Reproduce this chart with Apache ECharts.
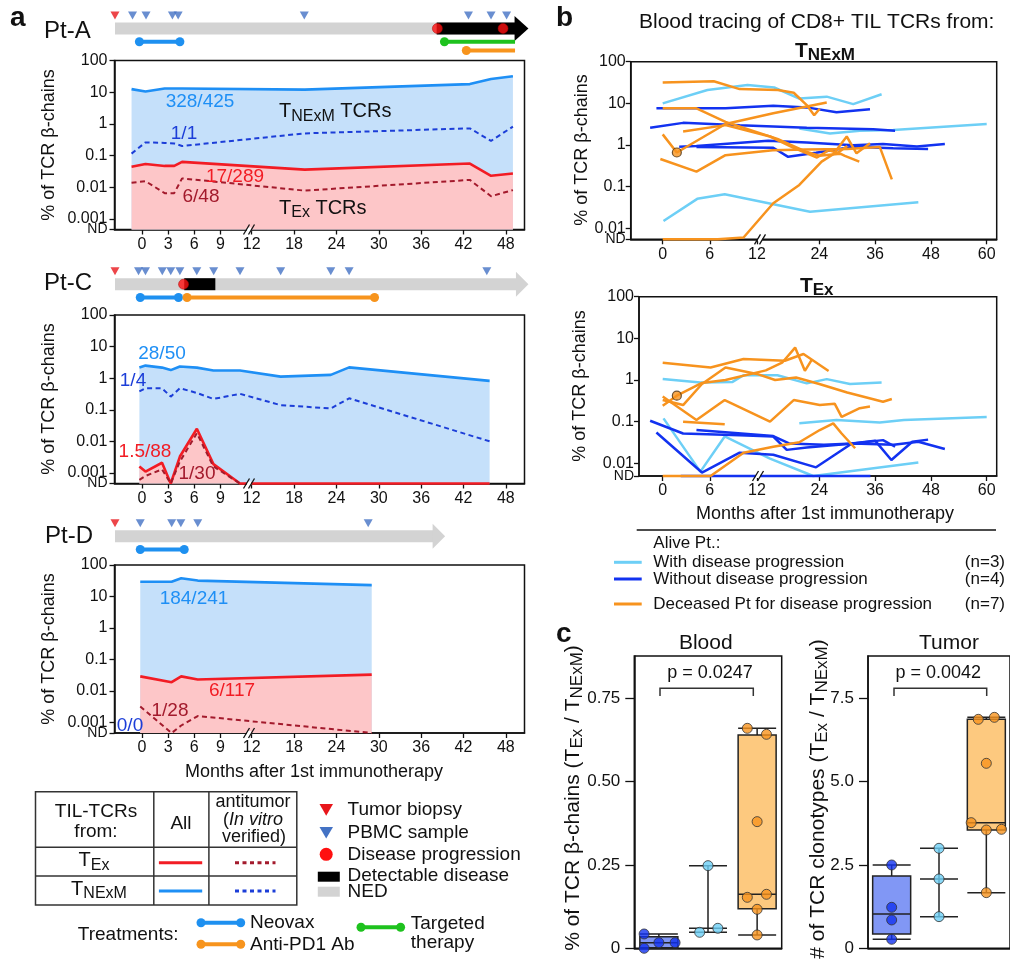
<!DOCTYPE html>
<html><head><meta charset="utf-8"><title>TIL TCR tracing</title>
<script src="https://cdn.jsdelivr.net/npm/echarts@6.0.0/dist/echarts.min.js"></script>
<style>html,body{margin:0;padding:0;background:#fff}#chart{width:1010px;height:960px}</style>
</head><body><div id="chart"></div><script>
// ================= DATA =================
const monthTicksA = [0,3,6,9,12,18,24,30,36,42,48];
const monthTicksB = [0,6,12,24,36,48,60];
const logTicksA = [-3,-2,-1,0,1,2];
const logTickLabelsA = ['0.001','0.01','0.1','1','10','100'];
const logTicksB = [-2,-1,0,1,2];
const logTickLabelsB = ['0.01','0.1','1','10','100'];
const ndText = 'ND';

// ---- Pt-A ----
const ptA_times     = [-1.2,0.4,2.6,3.7,4.6,19.5,42.9,45.9,49.0];
const ptA_tnexmAll  = [12.5,10.5,13,13,13,12,18,26,32];
const ptA_tnexmAnti = [0.115,0.26,0.25,0.24,0.2,0.5,0.72,0.29,0.82];
const ptA_texAll    = [0.044,0.054,0.047,0.047,0.063,0.036,0.056,0.023,0.027];
const ptA_texAnti   = [0.0138,0.0155,0.0065,0.0065,0.019,0.0078,0.017,0.0052,0.0081];
const ptA_bar       = [-3.1,49.3,51.2];     // start, end of body, arrow tip
const ptA_detectable= [[38.2,49.3]];
const ptA_biopsy    = [-3.1];
const ptA_pbmc      = [-1.09,0.46,3.49,4.15,19.45,42.7,45.9,48.1];
const ptA_progression = [38.3,47.6];
const ptA_neovax    = [-0.3,4.35];
const ptA_targeted  = [39.3,49.3];
const ptA_antiPD1   = [42.4,49.3];

// ---- Pt-C ----
const ptC_times     = [-0.3,0.4,2.3,3.3,4.35,6.3,8.2,11.25,16.1,23.2,25.8,45.7];
const ptC_tnexmAll  = [2.16,2.5,2.16,1.8,2.35,2.16,1.75,1.75,1.12,1.27,2.2,0.82];
const ptC_tnexmAnti = [0.38,0.48,0.48,0.26,0.48,0.34,0.22,0.32,0.14,0.11,0.23,0.01];
const ptC_texAll    = [0.0016,0.0011,0.0021,0,0.0033,0.025,0.0019,0,0,0,0,0];
const ptC_texAnti   = [0.0006,0.0008,0.0013,0,0.0023,0.018,0.0016,0,null,null,null,null];
const ptC_bar       = [-3.1,49.5,51.2];
const ptC_detectable= [[4.85,8.42]];
const ptC_biopsy    = [-3.1];
const ptC_pbmc      = [-0.4,0.4,2.33,3.3,4.35,6.29,8.23,11.25,16.1,23.2,25.8,45.3];
const ptC_progression = [4.77];
const ptC_neovax    = [-0.2,4.19];
const ptC_antiPD1   = [5.17,29.4];

// ---- Pt-D ----
const ptD_times     = [-0.2,3.4,4.5,6.4,29.0];
const ptD_tnexmAll  = [29.5,29.5,38,32,23];
const ptD_texAll    = [0.029,0.019,0.029,0.023,0.033];
const ptD_texAnti   = [0.0032,0,0.0008,0.0016,0];
const ptD_bar       = [-3.1,37.7,39.4];
const ptD_detectable= [];
const ptD_biopsy    = [-3.1];
const ptD_pbmc      = [-0.2,3.41,4.46,6.4,28.5];
const ptD_progression = [];
const ptD_neovax    = [-0.2,4.85];

// ---- Panel b : T_NExM (top) ----  [month, % of TCR beta-chains], 0 = ND
const bTop_light = [
  [[0,10],[5.7,21],[10.8,27.5],[14.3,24],[19.7,13],[25.6,14.5],[31.3,9.6],[37.4,16.5]],
  [[19.7,2.5],[26.3,1.9],[32.7,2.2],[39.9,2.3],[60,3.2]],
  [[0.1,0.015],[4.4,0.051],[7.9,0.066],[22,0.025],[45.3,0.042]]
];
const bTop_dark = [
  [[-0.8,7.6],[4.3,7.6],[8,7.6],[14.1,8.7],[21.3,8],[27.7,6.1],[34.9,7.2]],
  [[-1.6,2.6],[2.6,3.4],[9.8,3.0],[21.3,2.6],[35.6,2.4],[40.3,2.2]],
  [[2.1,0.91],[4.3,0.95],[13,1.26],[21.3,1.15],[31.3,0.99],[37.7,1.05],[45,0.92],[51,1.05]],
  [[4.3,0.89],[14.1,0.86],[17.3,0.52],[23.3,0.65],[31.3,0.91],[39.9,0.83],[47.4,0.8]]
];
const bTop_orange = [
  [[0,31.6],[6.5,34],[9.8,22],[15.1,21],[18.5,18],[21.3,9.1],[22.9,5.2],[24.1,7.4]],
  [[0,7.6],[4.3,7.6],[8,3.6],[15,1.4],[21,0.7],[24,0.55],[28.5,0.62],[29.5,0.55],[32.6,0.4]],
  [[0,1.8],[1.8,0.66],[8,3.2],[14.1,5.8],[25.6,10.5]],
  [[2.6,2.1],[8,3.0],[13.4,1.6],[18.5,0.85],[23.5,0.5],[26,0.75],[28,0.65],[30,0.95]],
  [[-0.3,0.46],[4.3,0.23],[8,0.57],[14,0.75],[21,0.78],[30,0.8],[37,0.9],[39.6,0.15]],
  [[0,0],[7,0],[10.3,0.006],[14.1,0.04],[19.7,0.11],[24.5,0.4],[27,0.6],[29.9,1.6],[32,0.63],[34.9,1.1]]
];
const bTop_marker = [[1.8,0.66]];

// ---- Panel b : T_Ex (bottom) ----
const bBot_light = [
  [[0,1.05],[4.8,0.87],[8.9,0.9],[10.3,1.3],[15,1.3],[21.3,0.83],[25.6,1.05],[30.6,0.8],[37.4,0.87]],
  [[19.7,0.091],[27.7,0.11],[37,0.095],[42.2,0.11],[60,0.13]],
  [[0.1,0.12],[4.8,0.0063],[7.9,0.044],[13.4,0.013],[22.7,0],[45.3,0.0104]]
];
const bBot_dark = [
  [[-1.6,0.105],[2.6,0.052],[9.8,0.047],[14.1,0.044],[17,0.021],[21.3,0.024],[31.3,0.03],[37.7,0.036],[40.3,0.025]],
  [[-0.8,0.055],[5,0.006],[9.8,0.018],[14.1,0.016],[23.3,0.008],[31,0.03],[36,0.035],[39.5,0.012],[44,0.033],[47.4,0.037]],
  [[4.3,0.063],[14.1,0.045],[17.5,0.03],[25,0.028],[31.3,0.03],[40,0.028],[45.3,0.033],[51,0.022]],
  [[2.3,0],[4.5,0],[10,0],[14,0],[24,0],[35,0]]
];
const bBot_orange = [
  [[0,2.6],[6.1,2.0],[10.3,3.2],[16.6,2.9],[20.6,4.2],[26,1.65]],
  [[0,0.24],[1.8,0.42],[5,0.85],[8,1.0],[12.5,1.7],[16,2.6],[18.8,6.0],[20.9,1.66],[22.4,3.1]],
  [[0,0.4],[4.3,0.11],[7.9,0.33],[13.4,0.1],[18.5,0.33],[24.1,0.25],[27.3,0.27],[28.8,0.13],[32.7,0.21],[34.9,0.23]],
  [[2.6,0.1],[7.9,0.087]],
  [[0,0.33],[2.6,0.25],[5,0.8],[8,2.0],[12,1.4],[14.5,1.0],[19,1.15],[24,0.8],[30,0.5],[37.7,0.3],[39.6,0.35]],
  [[0,0],[6.1,0],[10.3,0.018],[14.1,0.025],[19.7,0.032],[24.1,0.063],[27,0.091],[28.8,0.052],[31.7,0.023]]
];
const bBot_marker = [[1.8,0.42]];

// ---- Panel c ----  groups: without progression, with progression, deceased
const bloodBoxes = [[0,0.002,0.017,0.035,0.043],[0.048,0.06,0.06,0.06,0.248],[0.04,0.119,0.162,0.64,0.66]];
const bloodPoints = [[0.043,0.0,0.017,0.017],[0.248,0.048,0.06],[0.66,0.642,0.38,0.153,0.162,0.117,0.04]];
const tumorBoxes = [[0.27,0.43,1.03,2.17,2.5],[0.95,2.08,2.08,2.08,3.0],[1.67,3.55,3.77,6.87,6.93]];
const tumorPoints = [[2.5,1.23,0.85,0.27],[3.0,2.08,0.95],[6.87,6.93,5.55,3.77,3.55,3.57,1.67]];
const bloodTicks = [0,0.25,0.5,0.75], bloodTickLabels = ['0','0.25','0.50','0.75'];
const tumorTicks = [0,2.5,5,7.5], tumorTickLabels = ['0','2.5','5.0','7.5'];

// ================= LAYOUT / STYLE =================
const bloodJitter = [[-0.3,-0.3,0,0.33],[0,-0.17,0.2],[-0.2,0.19,0,-0.2,0.19,0,0]];
const tumorJitter = [[0,0,0,0],[0,0,0],[-0.17,0.17,0,-0.32,0,0.32,0]];
const FONT = '"Liberation Sans", Arial, Helvetica, sans-serif';
const INK = '#111';
const C = {
  blue:'#1e8ff5', blueDash:'#1c3ed8', blueFill:'#c5e0fa',
  red:'#f21c24', redDash:'#a31a2c', redFill:'#fdc6c8',
  gray:'#d3d3d3', tri:'#4472c4', triRed:'#e8161b', prog:'#ff1010',
  neovax:'#1e90f0', pd1:'#f7941d', targeted:'#1ec21e',
  bLight:'#6dcff6', bDark:'#1232f0', bOrange:'#f7931e',
  boxColors:['#8197f5','#bde9fb','#fdc97f'], ptColors:['#1232f0','#6dcff6','#f7931e']
};
const ROW = {tri:-13, bar:0, t1:13.3, t2:22};
const ND_A = -3.335, ND_BT = -2.264, ND_BB = -2.305;

// broken time axes (months -> px-like units, 0 month at 0)
function fA(t){ return t < 12 ? 8.71*t : 109.7 + 7.06*(t-12); }
function fB(t){ return t <= 12 ? 7.85*t : 100.8 + 4.65*(t-12); }
function ly(v, nd){ return v <= 0 ? nd : Math.max(nd, Math.log10(v)); }

const grid=[], xAxis=[], yAxis=[], series=[], graphic=[];
const addGrid = g => (grid.push(g), grid.length-1);
const addX = o => (xAxis.push(o), xAxis.length-1);
const addY = o => (yAxis.push(o), yAxis.length-1);
function fmtFrom(vals, labels){ return v => { for (let i=0;i<vals.length;i++) if (Math.abs(vals[i]-v)<1e-6) return labels[i]; return ''; }; }
const axLine = {show:true, onZero:false, lineStyle:{color:INK,width:1.5}};

function monthAxis(gi, f, ticks, min, max, margin){
  const vals = ticks.map(f);
  return addX({gridIndex:gi, type:'value', min, max, axisLine:axLine,
    axisTick:{show:true, customValues:vals, length:5, lineStyle:{color:INK,width:1.3}},
    axisLabel:{show:true, customValues:vals, formatter:fmtFrom(vals, ticks.map(String)), margin, fontSize:16, fontFamily:FONT, color:INK,
      showMinLabel:true, showMaxLabel:true, hideOverlap:false},
    splitLine:{show:false}});
}
// ND tick is drawn by the axis; its "ND" text is added as graphic text (see ndLabel)
function logAxis(gi, nd, ticks, labels, margin){
  return addY({gridIndex:gi, type:'value', min:nd, max:2, axisLine:axLine,
    axisTick:{show:true, customValues:[nd].concat(ticks), length:5, lineStyle:{color:INK,width:1.3}},
    axisLabel:{show:true, customValues:ticks, formatter:fmtFrom(ticks,labels), margin, fontSize:16, fontFamily:FONT, color:INK,
      showMaxLabel:true, hideOverlap:false},
    splitLine:{show:false}});
}

// ---------- panel a plots ----------
function plotA(top, height, times, tnAll, tnAnti, txAll, txAnti){
  const gi = addGrid({left:114.5, top, width:410, height, show:true, borderColor:INK, borderWidth:1.5, backgroundColor:'rgba(0,0,0,0)'});
  const xi = monthAxis(gi, fA, monthTicksA, -27.5, 382.5, 7);
  const yi = logAxis(gi, ND_A, logTicksA, logTickLabelsA, 7);
  const pts = arr => times.map((t,i)=> (arr[i]===null||arr[i]===undefined) ? [fA(t),'-'] : [fA(t), ly(arr[i], ND_A)]);
  const base = {type:'line', xAxisIndex:xi, yAxisIndex:yi, symbol:'none', clip:false, silent:true};
  series.push(Object.assign({}, base, {data:pts(tnAll), lineStyle:{color:C.blue,width:2.6}, areaStyle:{color:C.blueFill,opacity:1,origin:'start'}, z:2}));
  series.push(Object.assign({}, base, {data:pts(txAll), lineStyle:{color:C.red,width:2.6}, areaStyle:{color:C.redFill,opacity:1,origin:'start'}, z:3}));
  if (tnAnti) series.push(Object.assign({}, base, {data:pts(tnAnti), lineStyle:{color:C.blueDash,width:2,type:[5,3.5]}, z:4}));
  if (txAnti) series.push(Object.assign({}, base, {data:pts(txAnti), lineStyle:{color:C.redDash,width:2,type:[5,3.5]}, z:4}));
}
function renderBar(params, api){
  const a = api.coord([api.value(0), 0]);
  const b = api.coord([api.value(1), 0]);
  const k = api.value(2);
  const fill = (k === 1 || k === 3) ? '#000' : C.gray;
  if (k < 2) return {type:'rect', shape:{x:a[0], y:a[1]-6, width:b[0]-a[0], height:12}, style:{fill}};
  return {type:'polygon', shape:{points:[[a[0]-0.5,a[1]-12.5],[b[0],a[1]],[a[0]-0.5,a[1]+12.5]]}, style:{fill}};
}
function timelineA(center, bar, detect, biopsy, pbmc, prog, treats){
  const gi = addGrid({left:114.5, top:center-25, width:410, height:50, show:false});
  const xi = addX({gridIndex:gi, type:'value', min:-27.5, max:382.5, show:false});
  const yi = addY({gridIndex:gi, type:'value', min:-25, max:25, inverse:true, show:false});
  const segs = [[fA(bar[0]), fA(bar[1]), 0, 0]];
  detect.forEach(d => segs.push([fA(d[0]), fA(d[1]), 1, 0]));
  const dark = detect.some(d => Math.abs(d[1]-bar[1]) < 1e-9);
  segs.push([fA(bar[1]), fA(bar[2]), dark ? 3 : 2, 0]);
  series.push({type:'custom', xAxisIndex:xi, yAxisIndex:yi, renderItem:renderBar, data:segs, encode:{x:[0,1], y:3}, clip:false, silent:true, z:2});
  const sc = {type:'scatter', xAxisIndex:xi, yAxisIndex:yi, clip:false, silent:true, z:4};
  series.push(Object.assign({}, sc, {data:biopsy.map(t=>[fA(t),ROW.tri]), symbol:'triangle', symbolRotate:180, symbolSize:[9,8], itemStyle:{color:C.triRed}}));
  series.push(Object.assign({}, sc, {data:pbmc.map(t=>[fA(t),ROW.tri]), symbol:'triangle', symbolRotate:180, symbolSize:[9,8], itemStyle:{color:C.tri}}));
  series.push(Object.assign({}, sc, {data:prog.map(t=>[fA(t),ROW.bar]), symbol:'circle', symbolSize:10, itemStyle:{color:C.prog, borderColor:'#a00', borderWidth:0.6}}));
  treats.forEach(tr => {
    series.push({type:'line', xAxisIndex:xi, yAxisIndex:yi, clip:false, silent:true, z:3, symbol:'circle', symbolSize:9, showSymbol:true,
      data:[{value:[fA(tr.r[0]), tr.row]}, {value:[fA(tr.r[1]), tr.row], symbol: tr.ongoing ? 'none' : 'circle'}],
      lineStyle:{color:tr.color, width:4}, itemStyle:{color:tr.color}});
  });
}

timelineA(28.5, ptA_bar, ptA_detectable, ptA_biopsy, ptA_pbmc, ptA_progression, [
  {r:ptA_neovax, row:ROW.t1, color:C.neovax, ongoing:false},
  {r:ptA_targeted, row:ROW.t1, color:C.targeted, ongoing:true},
  {r:ptA_antiPD1, row:ROW.t2, color:C.pd1, ongoing:true}]);
plotA(60.5, 169, ptA_times, ptA_tnexmAll, ptA_tnexmAnti, ptA_texAll, ptA_texAnti);
timelineA(284.2, ptC_bar, ptC_detectable, ptC_biopsy, ptC_pbmc, ptC_progression, [
  {r:ptC_neovax, row:ROW.t1, color:C.neovax, ongoing:false},
  {r:ptC_antiPD1, row:ROW.t1, color:C.pd1, ongoing:false}]);
plotA(315, 168.5, ptC_times, ptC_tnexmAll, ptC_tnexmAnti, ptC_texAll, ptC_texAnti);
timelineA(536.2, ptD_bar, ptD_detectable, ptD_biopsy, ptD_pbmc, ptD_progression, [
  {r:ptD_neovax, row:ROW.t1, color:C.neovax, ongoing:false}]);
plotA(565, 168, ptD_times, ptD_tnexmAll, null, ptD_texAll, ptD_texAnti);

// ---------- panel b ----------
function plotB(left, top, width, height, xmin, nd, groups, marker){
  const gi = addGrid({left, top, width, height, show:true, borderColor:INK, borderWidth:1.5, backgroundColor:'rgba(0,0,0,0)'});
  const xi = monthAxis(gi, fB, monthTicksB, xmin, 334, 7);
  const yi = logAxis(gi, nd, logTicksB, logTickLabelsB, 5);
  groups.forEach(g => g.lines.forEach(line => series.push({type:'line', xAxisIndex:xi, yAxisIndex:yi, symbol:'none', clip:false, silent:true, z:3,
    data: line.map(p => [fB(p[0]), ly(p[1], nd)]), lineStyle:{color:g.color, width:2.5}})));
  series.push({type:'scatter', xAxisIndex:xi, yAxisIndex:yi, clip:false, silent:true, z:5, symbolSize:9,
    data: marker.map(p => [fB(p[0]), ly(p[1], nd)]), itemStyle:{color:C.bOrange, borderColor:'#4a3010', borderWidth:1.2}});
}
plotB(630.7, 61.7, 366, 177.6, -32, ND_BT, [{lines:bTop_light,color:C.bLight},{lines:bTop_dark,color:C.bDark},{lines:bTop_orange,color:C.bOrange}], bTop_marker);
plotB(639, 296.7, 357.7, 179.3, -23.7, ND_BB, [{lines:bBot_light,color:C.bLight},{lines:bBot_dark,color:C.bDark},{lines:bBot_orange,color:C.bOrange}], bBot_marker);

// ---------- panel c ----------
function plotC(left, width, ymax, ticks, tickLabels, boxes, points, jitter){
  const gi = addGrid({left, top:656, width, height:292.3, show:true, borderColor:INK, borderWidth:1.5, backgroundColor:'rgba(0,0,0,0)'});
  const xi = addX({gridIndex:gi, type:'category', data:['without','with','deceased'], axisLine:axLine, axisTick:{show:false}, axisLabel:{show:false}, splitLine:{show:false}});
  const xs = addX({gridIndex:gi, type:'value', min:-0.5, max:2.5, show:false});
  const yi = addY({gridIndex:gi, type:'value', min:0, max:ymax, axisLine:axLine,
    axisTick:{show:true, customValues:ticks, length:9, lineStyle:{color:INK,width:1.3}},
    axisLabel:{show:true, customValues:ticks, formatter:fmtFrom(ticks,tickLabels), margin:14, fontSize:17, fontFamily:FONT, color:INK, showMinLabel:true},
    splitLine:{show:false}});
  series.push({type:'boxplot', xAxisIndex:xi, yAxisIndex:yi, boxWidth:[38,38], silent:true, z:2,
    data: boxes.map((b,i)=>({value:b, itemStyle:{color:C.boxColors[i], borderColor:'#222', borderWidth:1.5}}))});
  points.forEach((arr,g) => series.push({type:'scatter', xAxisIndex:xs, yAxisIndex:yi, clip:false, silent:true, z:4, symbolSize:10,
    data: arr.map((v,k)=>[g + jitter[g][k], v]), itemStyle:{color:C.ptColors[g], borderColor:'#333', borderWidth:1}}));
}
plotC(634.3, 147.4, 0.877, bloodTicks, bloodTickLabels, bloodBoxes, bloodPoints, bloodJitter);
plotC(868, 143, 8.77, tumorTicks, tumorTickLabels, tumorBoxes, tumorPoints, tumorJitter);

// ================= GRAPHIC TEXT / LEGENDS =================
function txt(x, y, text, o){
  o = o || {};
  graphic.push({type:'text', x, y, rotation:o.rot||0, silent:true, z:100,
    style:{text, fill:o.color||INK, fontSize:o.size||18, fontFamily:FONT, fontWeight:o.weight||'normal',
      align:o.align||'left', verticalAlign:o.va||'middle', rich:o.rich}});
}
function subRich(size, sub, weight, color){
  weight = weight || 'normal'; color = color || INK;
  return {
    m:{fontSize:size, fontFamily:FONT, fontWeight:weight, fill:color, color:color, lineHeight:size+5},
    s:{fontSize:sub, fontFamily:FONT, fontWeight:weight, fill:color, color:color, lineHeight:sub, verticalAlign:'bottom'},
    i:{fontSize:size, fontFamily:FONT, fontStyle:'italic', fill:color, color:color, lineHeight:size+5}
  };
}
function line(x1,y1,x2,y2,color,width,dash){
  graphic.push({type:'line', silent:true, z:100, shape:{x1,y1,x2,y2}, style:{stroke:color, lineWidth:width, lineDash:dash||null}});
}
function rect(x,y,w,h,fill,stroke,lw){
  graphic.push({type:'rect', silent:true, z:99, shape:{x,y,width:w,height:h}, style:{fill:fill||'none', stroke:stroke||null, lineWidth:lw||0}});
}
function poly(points, fill){ graphic.push({type:'polygon', silent:true, z:100, shape:{points}, style:{fill}}); }
function circle(cx, cy, r, fill){ graphic.push({type:'circle', silent:true, z:101, shape:{cx,cy,r}, style:{fill}}); }
function brk(x, y){
  rect(x-2.2, y-2, 4.4, 4, '#fff', null, 0);
  line(x-5.5, y+5, x+0.5, y-5, INK, 1.3);
  line(x-0.5, y+5, x+5.5, y-5, INK, 1.3);
}
function ndLabel(xRight, y){ txt(xRight, y, ndText, {size:14, align:'right'}); }
const R90 = Math.PI/2;

// panel letters
txt(10, 18, 'a', {size:28, weight:'bold'});
txt(556, 18, 'b', {size:28, weight:'bold'});
txt(556, 634, 'c', {size:28, weight:'bold'});

// ND labels of the broken log axes
ndLabel(107.5, 229.5); ndLabel(107.5, 483.5); ndLabel(107.5, 733);
ndLabel(625.7, 239.3); ndLabel(634, 476);

// panel a
txt(44, 31, 'Pt-A', {size:24});
txt(44, 283, 'Pt-C', {size:24});
txt(45, 536, 'Pt-D', {size:24});
[145, 399, 649].forEach(y => txt(49, y, '% of TCR β-chains', {size:18, rot:R90, align:'center'}));
txt(314, 771.7, 'Months after 1st immunotherapy', {size:18, align:'center'});
txt(200, 101.7, '328/425', {size:19, color:C.blue, align:'center'});
txt(279, 111.7, '{m|T}{s|NExM}{m| TCRs}', {rich:subRich(20,16)});
txt(184, 133.3, '1/1', {size:19, color:C.blueDash, align:'center'});
txt(235, 176.7, '17/289', {size:19, color:C.red, align:'center'});
txt(201, 196.7, '6/48', {size:19, color:C.redDash, align:'center'});
txt(279, 208.3, '{m|T}{s|Ex}{m| TCRs}', {rich:subRich(20,16)});
txt(162, 353.3, '28/50', {size:19, color:C.blue, align:'center'});
txt(133, 380.7, '1/4', {size:19, color:C.blueDash, align:'center'});
txt(145, 452, '1.5/88', {size:19, color:C.red, align:'center'});
txt(197, 473.3, '1/30', {size:19, color:C.redDash, align:'center'});
txt(194, 598.3, '184/241', {size:19, color:C.blue, align:'center'});
txt(232, 691, '6/117', {size:19, color:C.red, align:'center'});
txt(170, 710.7, '1/28', {size:19, color:C.redDash, align:'center'});
txt(130, 726, '0/0', {size:19, color:C.blueDash, align:'center'});
brk(249, 229.5); brk(249, 483.5); brk(249, 733);

// table legend
rect(35.5, 791.7, 261.3, 113.3, 'none', '#333', 1.5);
line(35.5, 847.3, 296.8, 847.3, '#333', 1.5);
line(35.5, 876, 296.8, 876, '#333', 1.5);
line(153.8, 791.7, 153.8, 905, '#333', 1.5);
line(208.9, 791.7, 208.9, 905, '#333', 1.5);
txt(96, 811.7, 'TIL-TCRs', {size:19, align:'center'});
txt(96, 831.7, 'from:', {size:19, align:'center'});
txt(181, 823.3, 'All', {size:19, align:'center'});
txt(253, 801.7, 'antitumor', {size:18, align:'center'});
txt(253, 820, '({i|In vitro}', {size:18, align:'center', rich:subRich(18,14)});
txt(254, 836.7, 'verified)', {size:18, align:'center'});
txt(94, 860.7, '{m|T}{s|Ex}', {align:'center', rich:subRich(20,16)});
txt(99, 889, '{m|T}{s|NExM}', {align:'center', rich:subRich(20,16)});
line(158.9, 862.7, 202.2, 862.7, C.red, 3);
line(235, 862.7, 275.5, 862.7, C.redDash, 3, [4,3.5]);
line(158.9, 891, 202.2, 891, C.blue, 3);
line(235, 891, 275.5, 891, C.blueDash, 3, [4,3.5]);
// symbols legend
poly([[319.5,804],[333,804],[326.2,815.7]], C.triRed);
poly([[319.5,827],[333,827],[326.2,838.5]], C.tri);
circle(326.2, 854.3, 6.5, C.prog);
rect(317.8, 871.7, 22, 10, '#000', null, 0);
rect(317.8, 886.7, 22, 10, C.gray, null, 0);
txt(347.5, 810, 'Tumor biopsy', {size:19});
txt(347.5, 832.7, 'PBMC sample', {size:19});
txt(347.5, 854.3, 'Disease progression', {size:19});
txt(347.5, 876, 'Detectable disease', {size:19});
txt(347.5, 891.7, 'NED', {size:19});
// treatments legend
txt(77.8, 935, 'Treatments:', {size:19});
function treatLeg(x1, x2, y, col){ line(x1, y, x2, y, col, 4); circle(x1, y, 4.5, col); circle(x2, y, 4.5, col); }
treatLeg(201, 240.7, 922.7, C.neovax);
treatLeg(201, 240.7, 944.3, C.pd1);
treatLeg(361, 400.6, 927.3, C.targeted);
txt(250, 922.7, 'Neovax', {size:19});
txt(250, 944.3, 'Anti-PD1 Ab', {size:19});
txt(410.8, 923.3, 'Targeted', {size:19});
txt(410.8, 942.7, 'therapy', {size:19});

// panel b
txt(816.7, 22.7, 'Blood tracing of CD8+ TIL TCRs from:', {size:21, align:'center'});
txt(825, 51, '{m|T}{s|NExM}', {align:'center', rich:subRich(21,17,'bold')});
txt(816.7, 286, '{m|T}{s|Ex}', {align:'center', rich:subRich(21,17,'bold')});
txt(582.5, 150, '% of TCR β-chains', {size:18, rot:R90, align:'center'});
txt(580, 386, '% of TCR β-chains', {size:18, rot:R90, align:'center'});
txt(825, 514, 'Months after 1st immunotherapy', {size:18, align:'center'});
brk(760, 239.3); brk(758, 476);
line(636.7, 530, 996, 530, INK, 1.5);
txt(653.3, 543.3, 'Alive Pt.:', {size:17});
line(614, 562.3, 641.7, 562.3, C.bLight, 3);
line(614, 579, 641.7, 579, C.bDark, 3);
line(614, 604, 641.7, 604, C.bOrange, 3);
txt(653.3, 562.3, 'With disease progression', {size:17});
txt(653.3, 579, 'Without disease progression', {size:17});
txt(653.3, 604, 'Deceased Pt for disease progression', {size:17});
txt(1005, 562.3, '(n=3)', {size:17, align:'right'});
txt(1005, 579, '(n=4)', {size:17, align:'right'});
txt(1005, 604, '(n=7)', {size:17, align:'right'});

// panel c
txt(705.8, 643.3, 'Blood', {size:21, align:'center'});
txt(949, 643.3, 'Tumor', {size:21, align:'center'});
txt(710, 673.3, 'p = 0.0247', {size:18, align:'center'});
txt(938.3, 673.3, 'p = 0.0042', {size:18, align:'center'});
graphic.push({type:'polyline', silent:true, z:100, shape:{points:[[660,696],[660,688.3],[753.3,688.3],[753.3,696]]}, style:{stroke:'#333', lineWidth:1.5, fill:null}});
graphic.push({type:'polyline', silent:true, z:100, shape:{points:[[894,696],[894,688.3],[986.7,688.3],[986.7,696]]}, style:{stroke:'#333', lineWidth:1.5, fill:null}});
txt(573.3, 798, '{m|% of TCR β-chains (T}{s|Ex}{m| / T}{s|NExM}{m|)}', {rot:R90, align:'center', rich:subRich(21,17)});
txt(818.3, 799, '{m|# of TCR clonotypes (T}{s|Ex}{m| / T}{s|NExM}{m|)}', {rot:R90, align:'center', rich:subRich(21,17)});

// ================= RENDER =================
const chart = echarts.init(document.getElementById('chart'), null, {renderer:'canvas'});
chart.setOption({animation:false, backgroundColor:'#fff', textStyle:{fontFamily:FONT},
  grid, xAxis, yAxis, series, graphic:{elements:graphic}});
</script></body></html>
